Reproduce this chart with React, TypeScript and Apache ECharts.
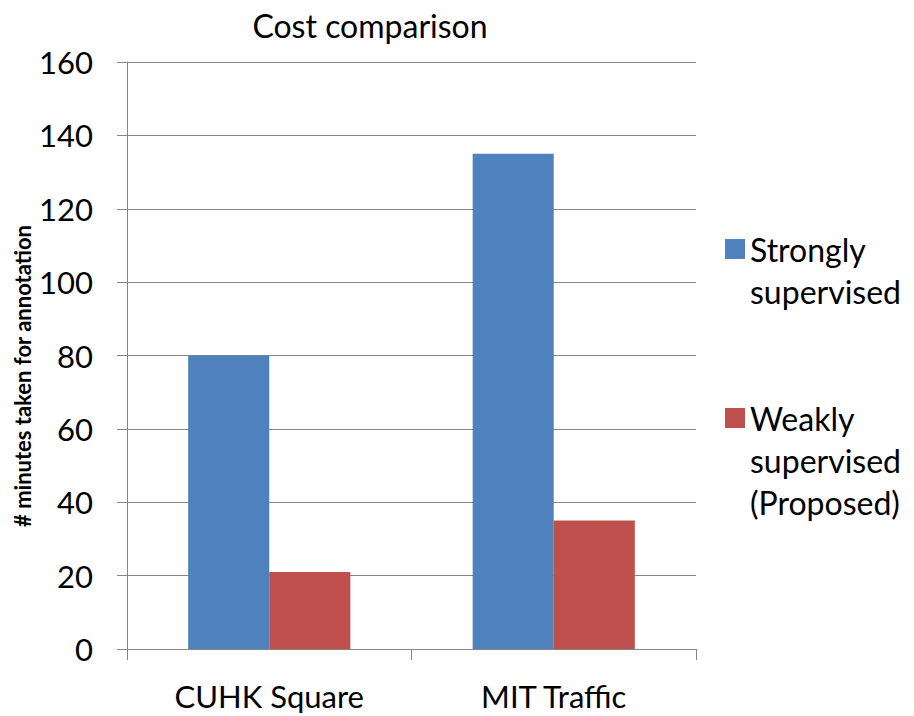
import React, { useEffect, useRef } from "react";
import * as echarts from "echarts";

const categories = ["CUHK Square", "MIT Traffic"];
const seriesNames = ["Strongly\nsupervised", "Weakly\nsupervised\n(Proposed)"];
const strongValues = [80, 135];
const weakValues = [21, 35];
const yTicks = { min: 0, max: 160, interval: 20 };
const titleText = "Cost comparison";
const yAxisName = "# minutes taken for annotation";

const FONT = "Lato";
const GRAY = "#868686";

export default function App() {
  const ref = useRef<HTMLDivElement>(null);
  useEffect(() => {
    if (!ref.current) return;
    const chart = echarts.init(ref.current, undefined, { renderer: "svg" });
    chart.setOption({
      animation: false,
      backgroundColor: "#ffffff",
      textStyle: { fontFamily: FONT },
      title: {
        text: titleText,
        left: 365,
        top: 4,
        textAlign: "center",
        textStyle: { fontFamily: FONT, fontSize: 32, fontWeight: "normal", color: "#000" },
      },
      legend: {
        orient: "vertical",
        left: 720,
        top: 181,
        itemWidth: 20,
        itemHeight: 20,
        itemGap: 1,
        icon: "rect",
        formatter: (name: string) =>
          name === seriesNames[0] ? "\n" + name : "\n\n" + name,
        textStyle: { fontFamily: FONT, fontSize: 32, color: "#000", lineHeight: 42 },
        data: seriesNames,
      },
      grid: { left: 127, right: 218, top: 62, bottom: 67, containLabel: false },
      graphic: [
        {
          type: "text",
          x: 22,
          y: 376,
          rotation: Math.PI / 2,
          style: {
            text: yAxisName,
            font: `bold 22px ${FONT}`,
            fill: "#000",
            align: "center",
            verticalAlign: "middle",
          },
        },
      ],
      xAxis: {
        type: "category",
        data: categories,
        axisLine: { lineStyle: { color: GRAY, width: 1 } },
        axisTick: { show: true, length: 11, lineStyle: { color: GRAY } },
        axisLabel: { fontFamily: FONT, fontSize: 31, color: "#000", margin: 31 },
      },
      yAxis: {
        type: "value",
        min: yTicks.min,
        max: yTicks.max,
        interval: yTicks.interval,
        axisLine: { show: true, lineStyle: { color: GRAY, width: 1 } },
        axisTick: { show: true, length: 10, lineStyle: { color: GRAY } },
        axisLabel: { fontFamily: FONT, fontSize: 31, color: "#000", margin: 34 },
        splitLine: { show: true, lineStyle: { color: GRAY, width: 1 } },
      },
      series: [
        {
          name: seriesNames[0],
          type: "bar",
          data: strongValues,
          itemStyle: { color: "#4F81BD" },
          barGap: "0%",
          barCategoryGap: "43%",
        },
        {
          name: seriesNames[1],
          type: "bar",
          data: weakValues,
          itemStyle: { color: "#C0504D" },
          barGap: "0%",
          barCategoryGap: "43%",
        },
      ],
    });
    return () => chart.dispose();
  }, []);
  return (
    <div
      ref={ref}
      style={{ position: "fixed", left: 0, top: 0, width: 914, height: 716 }}
    />
  );
}
